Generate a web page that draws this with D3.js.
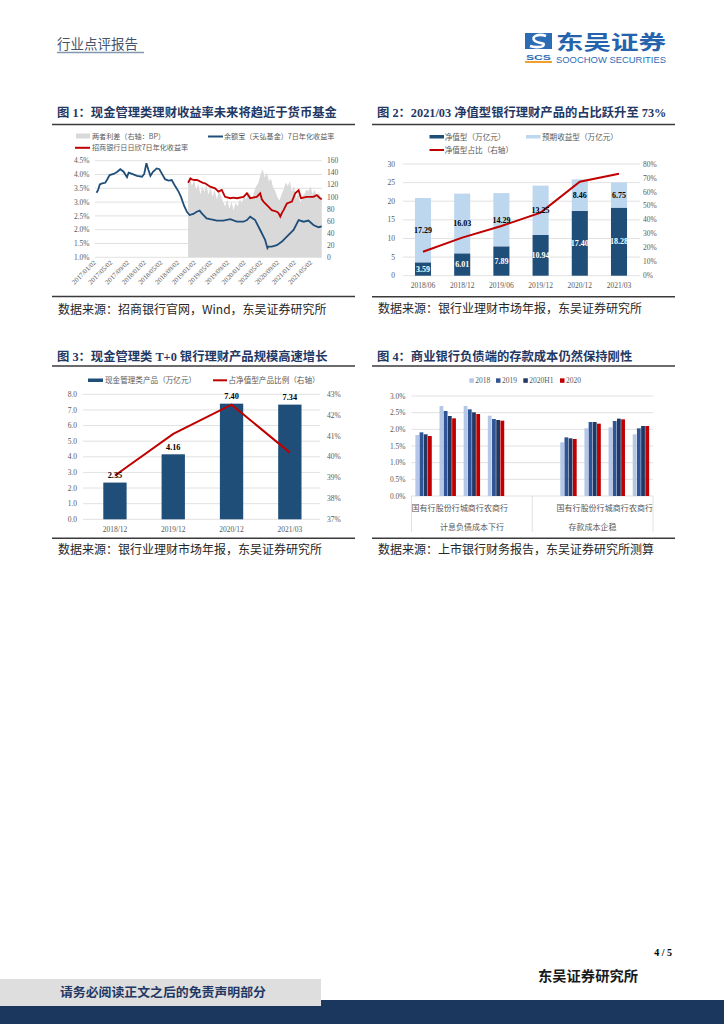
<!DOCTYPE html>
<html><head><meta charset="utf-8">
<script src="https://cdn.jsdelivr.net/npm/d3@7"></script>
<style>
html,body{margin:0;padding:0;background:#fff;}
svg{display:block;}
</style></head><body>
<svg id="page" width="724" height="1024"></svg>
<script>
// ---------------- DATA ----------------
// Chart 1
const c1TickDates = ["2017/01/02","2017/05/02","2017/09/02","2018/01/02","2018/05/02","2018/09/02","2019/01/02","2019/05/02","2019/09/02","2020/01/02","2020/05/02","2020/09/02","2021/01/02","2021/05/02"];
const c1LeftTicks = [1.0,1.5,2.0,2.5,3.0,3.5,4.0,4.5];
const c1RightTicks = [0,20,40,60,80,100,120,140,160];
const yuebaoDates = ["2017-01-02","2017-01-14","2017-01-26","2017-02-12","2017-03-07","2017-03-19","2017-04-08","2017-05-07","2017-06-01","2017-06-25","2017-07-19","2017-08-13","2017-08-25","2017-09-19","2017-10-25","2017-12-01","2017-12-17","2018-01-02","2018-01-17","2018-01-31","2018-02-19","2018-03-18","2018-04-07","2018-04-24","2018-05-18","2018-06-12","2018-07-06","2018-07-31","2018-08-25","2018-09-11","2018-10-05","2018-10-25","2018-11-14","2018-12-11","2019-01-05","2019-01-26","2019-02-11","2019-03-18","2019-04-13","2019-06-01","2019-07-19","2019-09-07","2019-10-25","2019-12-13","2020-01-07","2020-01-31","2020-03-07","2020-04-13","2020-05-19","2020-06-05","2020-06-13","2020-07-07","2020-08-13","2020-09-19","2020-10-25","2020-12-13","2021-01-19","2021-02-25","2021-04-01","2021-05-07","2021-06-13","2021-07-07"];
const yuebaoRates = [3.34,3.44,3.64,3.68,3.70,3.80,3.98,4.02,4.09,4.19,4.10,3.90,4.07,4.02,3.95,3.92,4.02,4.41,4.16,3.95,4.10,4.22,4.19,4.04,3.83,3.78,3.80,3.58,3.38,3.20,2.86,2.65,2.53,2.57,2.65,2.69,2.59,2.41,2.38,2.33,2.33,2.38,2.29,2.29,2.35,2.47,2.35,1.99,1.63,1.33,1.39,1.39,1.44,1.57,1.75,1.99,2.35,2.29,2.33,2.17,2.09,2.12];
const zsDates = ["2018-11-03","2018-11-20","2018-12-01","2018-12-20","2019-01-07","2019-02-01","2019-02-20","2019-03-07","2019-04-13","2019-05-19","2019-06-13","2019-07-07","2019-07-31","2019-09-07","2019-10-01","2019-10-25","2019-12-13","2020-01-07","2020-01-31","2020-03-19","2020-04-13","2020-04-25","2020-05-07","2020-06-01","2020-07-07","2020-08-13","2020-08-25","2020-09-07","2020-09-20","2020-10-01","2020-10-25","2020-12-01","2020-12-25","2021-01-19","2021-02-05","2021-03-19","2021-05-07","2021-06-01","2021-06-25","2021-07-07"];
const zsRates = [3.70,3.86,3.82,3.80,3.80,3.74,3.70,3.68,3.56,3.50,3.38,3.44,3.19,3.14,3.16,3.14,3.19,3.32,3.14,3.19,3.32,3.10,3.02,2.89,2.71,2.65,2.60,2.47,2.62,2.71,2.95,3.02,3.32,3.43,3.14,3.19,3.19,3.25,3.14,3.10];
const spreadMonths = ["2018-11","2018-12","2019-01","2019-02","2019-03","2019-04","2019-05","2019-06","2019-07","2019-08","2019-09","2019-10","2019-11","2019-12","2020-01","2020-02","2020-03","2020-04","2020-05","2020-06","2020-07","2020-08","2020-09","2020-10","2020-11","2020-12","2021-01","2021-02","2021-03","2021-04","2021-05","2021-06","2021-07"];
const spreadFirstHalf  = [124,118,112,104,108,104,100,96,102,84,80,78,84,90,96,104,110,124,146,140,130,110,94,112,118,108,98,90,104,110,104,100,96];
const spreadSecondHalf = [132,128,122,118,120,116,112,110,92,96,92,90,96,102,108,98,118,138,132,126,116,100,104,124,126,118,106,102,112,118,112,108,null];

// Chart 2
const c2Cats = ["2018/06","2018/12","2019/06","2019/12","2020/12","2021/03"];
const c2Net = [3.59,6.01,7.89,10.94,17.40,18.28];
const c2Expected = [17.29,16.03,14.29,13.25,8.46,6.75];
const c2Share = [17.2,27.3,35.6,45.2,67.3,73.0];
const c2LeftTicks = [0,5,10,15,20,25,30];
const c2RightTicks = [0,10,20,30,40,50,60,70,80];

// Chart 3
const c3Cats = ["2018/12","2019/12","2020/12","2021/03"];
const c3Size = [2.35,4.16,7.40,7.34];
const c3Share = [39.1,41.1,42.5,40.2];
const c3LeftTicks = [0,1,2,3,4,5,6,7,8];
const c3RightTicks = [37,38,39,40,41,42,43];

// Chart 4
const c4Banks = ["国有行","股份行","城商行","农商行"];
const c4Groups = ["计息负债成本下行","存款成本企稳"];
const c4Series = ["2018","2019","2020H1","2020"];
const liab2018 = [1.83,2.70,2.70,2.41];
const liab2019 = [1.91,2.55,2.60,2.31];
const liab2020H1 = [1.85,2.40,2.51,2.28];
const liab2020 = [1.80,2.33,2.46,2.26];
const dep2018 = [1.61,2.03,2.06,1.85];
const dep2019 = [1.76,2.22,2.25,2.03];
const dep2020H1 = [1.73,2.22,2.32,2.10];
const dep2020 = [1.71,2.17,2.30,2.10];
const c4Ticks = [0,0.5,1.0,1.5,2.0,2.5,3.0];

// ---------------- HELPERS ----------------
const svg = d3.select("#page");
const CJK = "'Noto Sans CJK SC','Noto Sans',sans-serif";
const SERIF = "'Liberation Serif','Times New Roman',serif";
const SANS = "'Liberation Sans',Arial,sans-serif";
const NAVY = "#1f3864";
const GRID = "#d9d9d9";
const AXT = "#595959";
const DARKBLUE = "#1f4e79";
const RED = "#c00000";

function T(g, x, y, s, o = {}) {
  const t = g.append("text").attr("x", x).attr("y", y).text(s)
    .attr("font-family", o.ff || CJK).attr("font-size", o.fs || 8)
    .attr("fill", o.fill || "#000");
  if (o.anchor) t.attr("text-anchor", o.anchor);
  if (o.fw) t.attr("font-weight", o.fw);
  if (o.len) t.attr("textLength", o.len).attr("lengthAdjust", "spacingAndGlyphs");
  return t;
}
function title(g, x, y, s) {
  const t = g.append("text").attr("x", x).attr("y", y).attr("font-size", 12.3)
    .attr("font-weight", "bold").attr("fill", NAVY);
  const runs = s.match(/[\x20-\x7e]+|[^\x20-\x7e]+/g);
  runs.forEach(r => {
    t.append("tspan").text(r).attr("font-family", /[\x20-\x7e]/.test(r[0]) ? SERIF : CJK)
      .style("white-space", "pre");
  });
  t.attr("xml:space", "preserve");
  return t;
}
function hline(g, x1, x2, y, c, w) {
  g.append("line").attr("x1", x1).attr("x2", x2).attr("y1", y).attr("y2", y)
    .attr("stroke", c).attr("stroke-width", w);
}
function section(x0, x1, titleY, titleText, lineY, botY, srcY, srcText) {
  const g = svg.append("g");
  title(g, x0 + 5, titleY, titleText);
  hline(g, x0, x1, lineY, "#3a3a3a", 1.5);
  hline(g, x0, x1, botY, "#3a3a3a", 1.5);
  T(g, x0 + 6, srcY, srcText, { fs: 12, fill: "#262626" });
  return g;
}

// ---------------- HEADER ----------------
T(svg, 57, 49, "行业点评报告", { fs: 13.5, fill: "#44546a" });
hline(svg, 57, 144, 52.5, "#8497b0", 1.5);
const logo = svg.append("g");
logo.append("rect").attr("x", 525).attr("y", 33).attr("width", 27).attr("height", 16).attr("fill", "#2b6cb5");
logo.append("path").attr("d", "M546,36 C538,33 530,37 535,41 C539,44 546,42 543,46 C540,48 533,47 530,46")
  .attr("fill", "none").attr("stroke", "#fff").attr("stroke-width", 2.6);
T(logo, 538.5, 59.5, "SCS", { ff: SANS, fs: 7, fw: "bold", fill: "#2b6cb5", anchor: "middle", len: 25 });
logo.append("rect").attr("x", 525).attr("y", 61).attr("width", 27).attr("height", 2).attr("fill", "#f0a030");
T(logo, 556, 49.5, "东吴证券", { fs: 20, fw: "bold", fill: "#2563ac", len: 110 });
T(logo, 556, 63, "SOOCHOW SECURITIES", { ff: SANS, fs: 8.5, fill: "#2b6cb5", len: 110 });

// ---------------- CHART 1 ----------------
{
  const g = section(52, 355, 117, "图 1：现金管理类理财收益率未来将趋近于货币基金", 124.5, 296.5, 314,
    "数据来源：招商银行官网，Wind，东吴证券研究所");
  const pd = d3.timeParse("%Y-%m-%d"), pt = d3.timeParse("%Y/%m/%d");
  const x = d3.scaleTime().domain([pt("2017/01/02"), pt("2021/05/02")]).range([96.5, 312.7]);
  const yL = d3.scaleLinear().domain([1.0, 4.5]).range([257.3, 160.7]);
  const yR = d3.scaleLinear().domain([0, 160]).range([257.3, 160.7]);
  c1LeftTicks.forEach(v => hline(g, 95, 322, yL(v), GRID, 0.8));
  const spread = [];
  spreadMonths.forEach((m, i) => {
    spread.push({ d: pd(m + (i === 0 ? "-03" : "-01")), v: spreadFirstHalf[i] });
    if (spreadSecondHalf[i] != null) spread.push({ d: pd(m + "-16"), v: spreadSecondHalf[i] });
  });
  spread.push({ d: pd("2021-07-07"), v: 96 });
  g.append("path").datum(spread)
    .attr("d", d3.area().x(d => x(d.d)).y0(yR(0)).y1(d => yR(d.v)))
    .attr("fill", "#d9d9d9");
  const yb = yuebaoDates.map((d, i) => ({ d: pd(d), v: yuebaoRates[i] }));
  const zs = zsDates.map((d, i) => ({ d: pd(d), v: zsRates[i] }));
  const ln = d3.line().x(d => x(d.d)).y(d => yL(d.v));
  g.append("path").datum(zs).attr("d", ln).attr("fill", "none").attr("stroke", RED).attr("stroke-width", 1.8);
  g.append("path").datum(yb).attr("d", ln).attr("fill", "none").attr("stroke", DARKBLUE).attr("stroke-width", 1.8);
  c1LeftTicks.forEach(v => T(g, 89.5, yL(v) + 2.6, v.toFixed(1) + "%", { ff: SERIF, fs: 7.5, fill: AXT, anchor: "end" }));
  c1RightTicks.forEach(v => T(g, 327, yR(v) + 2.6, String(v), { ff: SERIF, fs: 7.5, fill: AXT }));
  c1TickDates.forEach(s => {
    const xx = x(pt(s));
    T(g, xx, 263, s, { ff: SERIF, fs: 6.8, fill: AXT, anchor: "end" })
      .attr("transform", `rotate(-45,${xx},263)`);
  });
  g.append("rect").attr("x", 76).attr("y", 133.5).attr("width", 14).attr("height", 5).attr("fill", "#d9d9d9");
  T(g, 92, 139, "两者利差（右轴：BP）", { fs: 7.1, fill: AXT });
  hline(g, 208, 223, 136.5, DARKBLUE, 2);
  T(g, 224, 139, "余额宝（天弘基金）7日年化收益率", { fs: 7.1, fill: AXT });
  hline(g, 75, 90, 147.8, RED, 2);
  T(g, 92, 150.3, "招商银行日日欣7日年化收益率", { fs: 7.1, fill: AXT });
}

// ---------------- CHART 2 ----------------
{
  const g = section(372, 675, 117, "图 2：2021/03 净值型银行理财产品的占比跃升至 73%", 124.5, 296.7, 313,
    "数据来源：银行业理财市场年报，东吴证券研究所");
  const x = d3.scaleBand().domain(c2Cats).range([403.4, 638.6]).paddingInner(0.59).paddingOuter(0.295);
  const y = d3.scaleLinear().domain([0, 30]).range([275.7, 164]);
  const yR = d3.scaleLinear().domain([0, 80]).range([275.7, 164]);
  c2LeftTicks.forEach(v => hline(g, 403, 640, y(v), GRID, 0.8));
  c2Cats.forEach((c, i) => {
    const bx = x(c), bw = x.bandwidth();
    g.append("rect").attr("x", bx).attr("y", y(c2Net[i])).attr("width", bw).attr("height", y(0) - y(c2Net[i])).attr("fill", DARKBLUE);
    g.append("rect").attr("x", bx).attr("y", y(c2Net[i] + c2Expected[i])).attr("width", bw)
      .attr("height", y(c2Net[i]) - y(c2Net[i] + c2Expected[i])).attr("fill", "#bdd7ee");
  });
  const ln = d3.line().x((d, i) => x(c2Cats[i]) + x.bandwidth() / 2).y(d => yR(d));
  g.append("path").datum(c2Share).attr("d", ln).attr("fill", "none").attr("stroke", RED).attr("stroke-width", 2);
  c2Cats.forEach((c, i) => {
    const cx = x(c) + x.bandwidth() / 2;
    T(g, cx, y(c2Net[i] / 2) + 2.8, c2Net[i].toFixed(2), { ff: SERIF, fs: 8, fw: "bold", fill: "#fff", anchor: "middle" });
    T(g, cx, y(c2Net[i] + c2Expected[i] / 2) + 2.8, c2Expected[i].toFixed(2), { ff: SERIF, fs: 8, fw: "bold", fill: "#000", anchor: "middle" });
    T(g, cx, 288, c, { ff: SERIF, fs: 7.5, fill: AXT, anchor: "middle" });
  });
  c2LeftTicks.forEach(v => T(g, 395, y(v) + 2.6, String(v), { ff: SERIF, fs: 7.5, fill: AXT, anchor: "end" }));
  c2RightTicks.forEach(v => T(g, 643, yR(v) + 2.6, v + "%", { ff: SERIF, fs: 7.5, fill: AXT }));
  g.append("rect").attr("x", 429.5).attr("y", 135).attr("width", 14.5).attr("height", 3.5).attr("fill", DARKBLUE);
  T(g, 444.7, 140, "净值型（万亿元）", { fs: 7.6, fill: AXT });
  g.append("rect").attr("x", 526).attr("y", 135).attr("width", 14.5).attr("height", 3.5).attr("fill", "#bdd7ee");
  T(g, 542, 140, "预期收益型（万亿元）", { fs: 7.6, fill: AXT });
  hline(g, 429.5, 444, 150, RED, 2);
  T(g, 444.7, 152.8, "净值型占比（右轴）", { fs: 7.6, fill: AXT });
}

// ---------------- CHART 3 ----------------
{
  const g = section(52, 355, 361, "图 3：现金管理类 T+0 银行理财产品规模高速增长", 366, 538.3, 554,
    "数据来源：银行业理财市场年报，东吴证券研究所");
  const x = d3.scaleBand().domain(c3Cats).range([85.8, 319]).paddingInner(0.6).paddingOuter(0.3);
  const y = d3.scaleLinear().domain([0, 8]).range([519.3, 394.3]);
  const yR = d3.scaleLinear().domain([37, 43]).range([519.3, 394.3]);
  c3LeftTicks.forEach(v => hline(g, 83, 320, y(v), GRID, 0.8));
  c3Cats.forEach((c, i) => {
    g.append("rect").attr("x", x(c)).attr("y", y(c3Size[i])).attr("width", x.bandwidth())
      .attr("height", y(0) - y(c3Size[i])).attr("fill", DARKBLUE);
  });
  const ln = d3.line().x((d, i) => x(c3Cats[i]) + x.bandwidth() / 2).y(d => yR(d));
  g.append("path").datum(c3Share).attr("d", ln).attr("fill", "none").attr("stroke", RED).attr("stroke-width", 2);
  c3Cats.forEach((c, i) => {
    const cx = x(c) + x.bandwidth() / 2;
    T(g, cx, y(c3Size[i]) - 4.8, c3Size[i].toFixed(2), { ff: SERIF, fs: 8.3, fw: "bold", fill: "#000", anchor: "middle" });
    T(g, cx, 532, c, { ff: SERIF, fs: 7.5, fill: AXT, anchor: "middle" });
  });
  c3LeftTicks.forEach(v => T(g, 77, y(v) + 2.6, v.toFixed(1), { ff: SERIF, fs: 7.5, fill: AXT, anchor: "end" }));
  c3RightTicks.forEach(v => T(g, 327, yR(v) + 2.6, v + "%", { ff: SERIF, fs: 7.5, fill: AXT }));
  g.append("rect").attr("x", 88).attr("y", 378.5).attr("width", 15).attr("height", 3.5).attr("fill", DARKBLUE);
  T(g, 105, 383, "现金管理类产品（万亿元）", { fs: 7.6, fill: AXT });
  hline(g, 213, 227, 380.3, RED, 2);
  T(g, 228.5, 383, "占净值型产品比例（右轴）", { fs: 7.6, fill: AXT });
}

// ---------------- CHART 4 ----------------
{
  const g = section(372, 675, 361, "图 4：商业银行负债端的存款成本仍然保持刚性", 366, 538.3, 554,
    "数据来源：上市银行财务报告，东吴证券研究所测算");
  const slots = d3.range(10);
  const x = d3.scaleBand().domain(slots).range([411.5, 653]).padding(0);
  const y = d3.scaleLinear().domain([0, 3.0]).range([496, 396]);
  const xs = d3.scaleBand().domain(c4Series).range([-8.2, 8.2]).paddingInner(0.1);
  const colors = { "2018": "#b4c7e7", "2019": "#2f5597", "2020H1": "#203864", "2020": RED };
  c4Ticks.forEach(v => hline(g, 411.5, 653, y(v), GRID, 0.8));
  const liab = { "2018": liab2018, "2019": liab2019, "2020H1": liab2020H1, "2020": liab2020 };
  const dep = { "2018": dep2018, "2019": dep2019, "2020H1": dep2020H1, "2020": dep2020 };
  const drawGroup = (vals, slotOffset) => {
    c4Banks.forEach((b, i) => {
      const cx = x(slotOffset + i) + x.bandwidth() / 2;
      c4Series.forEach(s => {
        const v = vals[s][i];
        g.append("rect").attr("x", cx + xs(s)).attr("y", y(v)).attr("width", xs.bandwidth())
          .attr("height", y(0) - y(v)).attr("fill", colors[s]);
      });
      T(g, cx, 511, b, { fs: 8, fill: AXT, anchor: "middle" });
    });
  };
  drawGroup(liab, 0);
  drawGroup(dep, 6);
  [411.5, 532.25, 653].forEach(xx => g.append("line").attr("x1", xx).attr("x2", xx).attr("y1", 496).attr("y2", 532)
    .attr("stroke", GRID).attr("stroke-width", 0.8));
  T(g, 471.9, 530, c4Groups[0], { fs: 8, fill: AXT, anchor: "middle" });
  T(g, 592.6, 530, c4Groups[1], { fs: 8, fill: AXT, anchor: "middle" });
  c4Ticks.forEach(v => T(g, 405.5, y(v) + 2.6, v.toFixed(1) + "%", { ff: SERIF, fs: 7.5, fill: AXT, anchor: "end" }));
  const lx = [469.3, 496, 523.3, 560];
  c4Series.forEach((s, i) => {
    g.append("rect").attr("x", lx[i]).attr("y", 378.3).attr("width", 4.5).attr("height", 4.5).attr("fill", colors[s]);
    T(g, lx[i] + 6, 383.3, s, { ff: SERIF, fs: 7.5, fill: AXT });
  });
}

// ---------------- FOOTER ----------------
T(svg, 672, 956, "4 / 5", { ff: SERIF, fs: 10, fw: "bold", fill: "#000", anchor: "end" });
T(svg, 538, 981, "东吴证券研究所", { fs: 14, fw: "bold", fill: "#1a1a1a", len: 100 });
svg.append("rect").attr("x", 0).attr("y", 1000).attr("width", 724).attr("height", 24).attr("fill", "#1b375d");
svg.append("rect").attr("x", 0).attr("y", 979).attr("width", 321).attr("height", 27).attr("fill", "#dedede");
T(svg, 60, 997, "请务必阅读正文之后的免责声明部分", { fs: 12.5, fw: "bold", fill: NAVY, len: 206 });
</script>
</body></html>
